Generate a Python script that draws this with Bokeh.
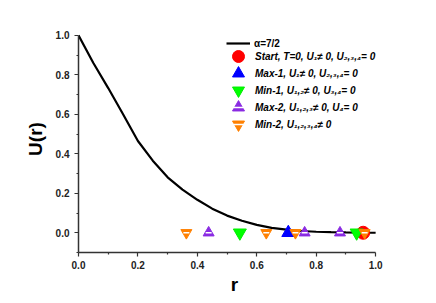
from bokeh.plotting import figure
from bokeh.models import Range1d, Legend, LegendItem, FixedTicker, NumeralTickFormatter
from bokeh.embed import file_html
from bokeh.resources import INLINE

# Curve alpha = 7/2
curve_r = [0.0, 0.05, 0.10, 0.15, 0.20, 0.25, 0.30, 0.35, 0.40, 0.45, 0.50, 0.55, 0.60, 0.65, 0.70, 0.75, 0.80, 0.85, 0.90, 0.95, 1.0]
curve_u = [1.0, 0.86, 0.733, 0.60, 0.465, 0.365, 0.281, 0.219, 0.167, 0.122, 0.087, 0.061, 0.040, 0.025, 0.016, 0.009, 0.005, 0.003, 0.0015, 0.0007, 0.0]

# Stationary points (all on U = 0)
start_r = [0.958]
start_u = [0.0]
max1_r = [0.706]
max1_u = [0.0]
min1_r = [0.543, 0.936]
min1_u = [0.0, 0.0]
max2_r = [0.438, 0.761, 0.880]
max2_u = [0.0, 0.0, 0.0]
min2_r = [0.363, 0.632, 0.730, 0.963]
min2_u = [0.0, 0.0, 0.0, 0.0]

line_label = "\u03b1=7/2"
point_labels = [
    "Start, T=0, U\u2081\u2260 0, U\u2082,\u2083,\u2084= 0",
    "Max-1, U\u2081\u2260 0, U\u2082,\u2083,\u2084= 0",
    "Min-1, U\u2081,\u2082\u2260 0, U\u2083,\u2084= 0",
    "Max-2, U\u2081,\u2082,\u2083\u2260 0, U\u2084= 0",
    "Min-2, U\u2081,\u2082,\u2083,\u2084\u2260 0",
]

ticks = [0.0, 0.2, 0.4, 0.6, 0.8, 1.0]
minor_ticks = [-0.1, 0.1, 0.3, 0.5, 0.7, 0.9]

FONT = "Liberation Sans"

p = figure(width=430, height=298, output_backend="svg", toolbar_location=None,
           x_range=Range1d(0, 1.05), y_range=Range1d(-0.1, 1.05),
           min_border_left=78, min_border_right=40, min_border_top=25, min_border_bottom=46)
p.outline_line_color = None
p.grid.visible = False
p.background_fill_color = "white"
p.border_fill_color = "white"

for ax in (p.xaxis[0], p.yaxis[0]):
    ax.ticker = FixedTicker(ticks=ticks, minor_ticks=minor_ticks)
    ax.formatter = NumeralTickFormatter(format="0.0")
    ax.major_tick_out = 4
    ax.major_tick_in = 0
    ax.minor_tick_out = 2
    ax.minor_tick_in = 0
    ax.axis_line_width = 1.5
    ax.axis_line_color = "#333333"
    ax.major_tick_line_color = "#333333"
    ax.minor_tick_line_color = "#333333"
    ax.major_tick_line_width = 1.2
    ax.minor_tick_line_width = 1.2
    ax.major_label_text_font = FONT
    ax.major_label_text_font_style = "bold"
    ax.major_label_text_font_size = "10px"
    ax.major_label_text_color = "#222222"
    ax.axis_label_text_font = FONT
    ax.axis_label_text_font_style = "bold"
    ax.axis_label_text_font_size = "19px"
    ax.axis_label_text_color = "black"

p.xaxis[0].bounds = (0, 1.0)
p.yaxis[0].bounds = (-0.1, 1.0)
p.xaxis[0].axis_label = "r"
p.yaxis[0].axis_label = "U(r)"
p.xaxis[0].major_label_standoff = 4
p.xaxis[0].axis_label_standoff = 2
p.yaxis[0].major_label_standoff = 5
p.yaxis[0].axis_label_standoff = 7

line = p.line(curve_r, curve_u, line_color="black", line_width=2.2)

r_start = p.scatter(start_r, start_u, marker="circle", size=13, fill_color="#FF0000", line_color="#FF0000")
r_max1 = p.scatter(max1_r, max1_u, marker="triangle", size=13, fill_color="#0000FF", line_color="#0000FF")
r_min1 = p.scatter(min1_r, min1_u, marker="inverted_triangle", size=13, fill_color="#00FF00", line_color="#00EE00")
r_max2 = p.scatter(max2_r, max2_u, marker="triangle", size=11, fill_color="#8A2BE2", line_color="#8A2BE2")
r_max2b = p.scatter(max2_r, max2_u, marker="dash", size=6, line_color="white", line_width=1.5)
r_min2 = p.scatter(min2_r, min2_u, marker="inverted_triangle", size=11, fill_color="#FF8000", line_color="#FF8000")
r_min2b = p.scatter(min2_r, min2_u, marker="dash", size=6, line_color="white", line_width=1.5)


def style_legend(lg, font_style, gh, gw, standoff):
    lg.border_line_alpha = 0
    lg.background_fill_alpha = 0
    lg.padding = 0
    lg.margin = 0
    lg.spacing = 0
    lg.glyph_width = gw
    lg.glyph_height = gh
    lg.label_height = gh
    lg.label_standoff = standoff
    lg.label_text_font = FONT
    lg.label_text_font_style = font_style
    lg.label_text_font_size = "10px"
    lg.label_text_color = "black"
    p.add_layout(lg)


leg1 = Legend(items=[LegendItem(label=line_label, renderers=[line])], location=(148, 202))
style_legend(leg1, "bold", 14, 24, 4)

point_renderers = [[r_start], [r_max1], [r_min1], [r_max2, r_max2b], [r_min2, r_min2b]]
row_bottoms = [181, 164, 147, 130, 113]
for lab, rends, yb in zip(point_labels, point_renderers, row_bottoms):
    lg = Legend(items=[LegendItem(label=lab, renderers=rends)], location=(145, yb))
    style_legend(lg, "bold italic", 30, 30, 2)

open("out.html", "w").write(file_html(p, INLINE))
